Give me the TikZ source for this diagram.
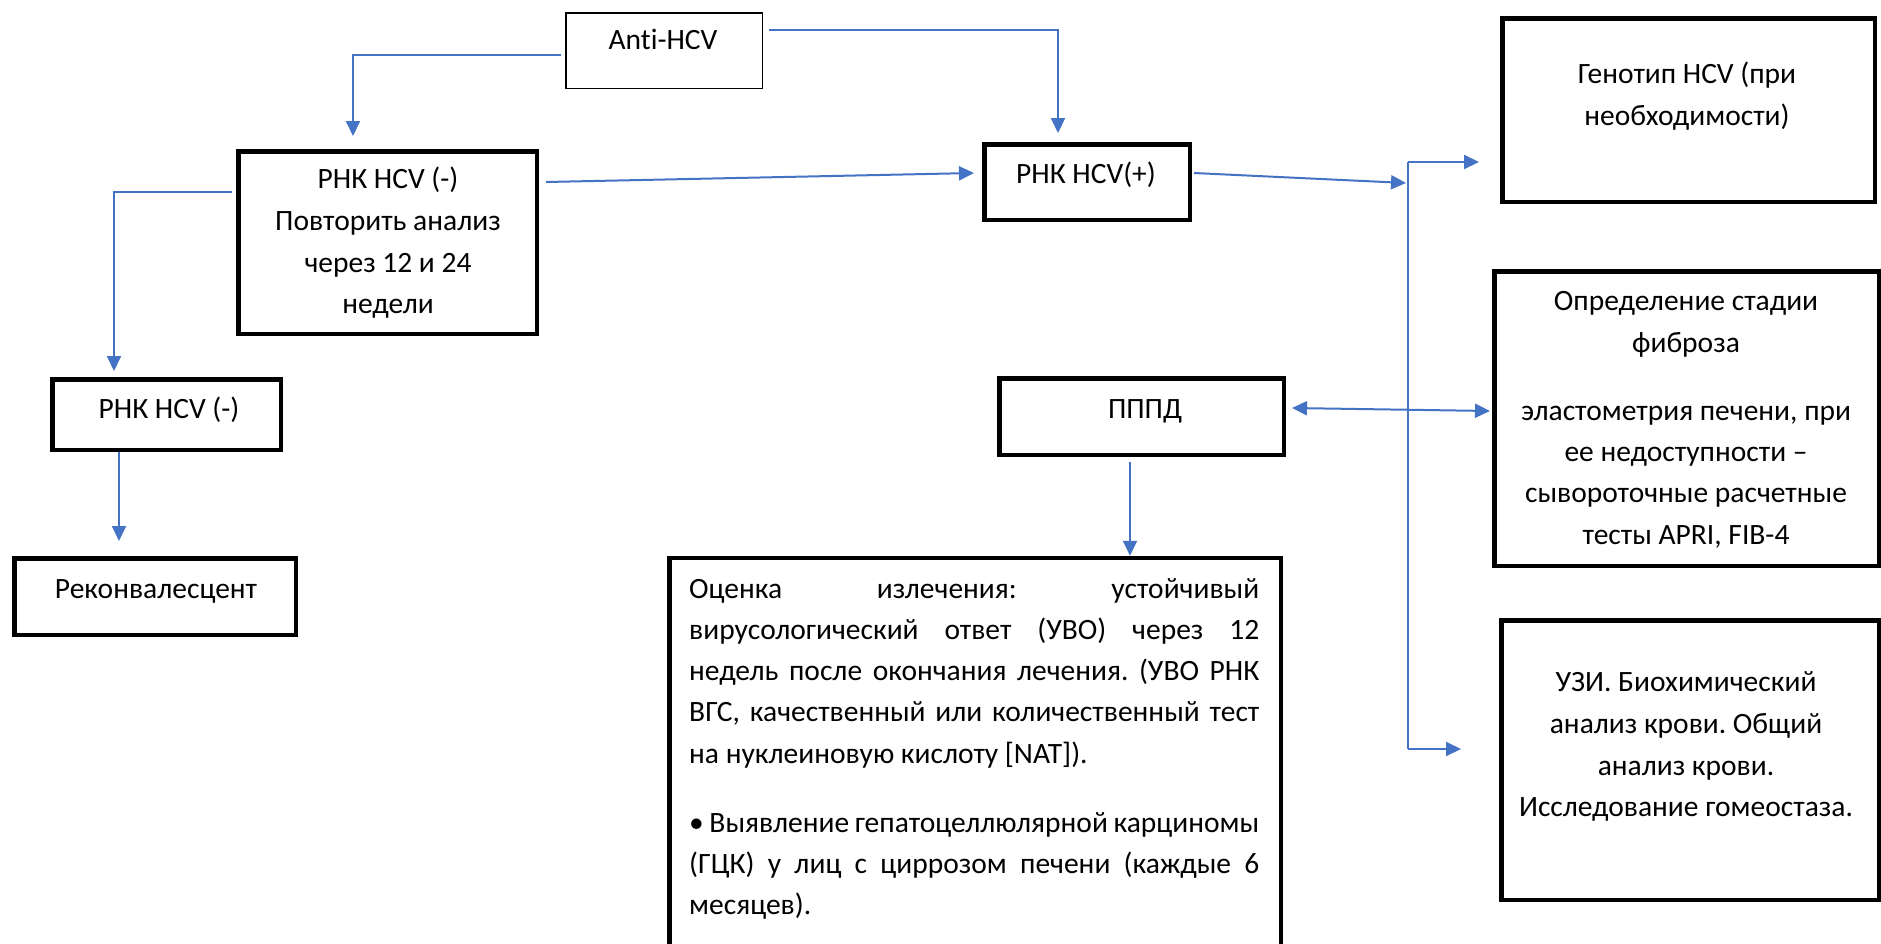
\documentclass[tikz,border=0pt]{standalone}
\usepackage{fontspec}
\setmainfont{Carlito}[Ligatures={NoCommon}]
\usetikzlibrary{arrows.meta}
\definecolor{linkblue}{HTML}{4472C4}
\frenchspacing
\tikzset{
  thinbox/.style={draw=black, line width=1.5pt, rectangle, inner sep=0pt},
  thickbox/.style={draw=black, line width=4.5pt, rectangle, inner sep=0pt},
  txt/.style={font=\fontsize{29.5}{35}\selectfont, inner sep=0pt, anchor=base},
  ltxt/.style={txt, anchor=base west},
  link/.style={draw=linkblue, line width=2pt, -{Triangle[length=15pt,width=14pt]}},
  plainlink/.style={draw=linkblue, line width=2pt},
  duallink/.style={draw=linkblue, line width=2pt, {Triangle[length=15pt,width=14pt]}-{Triangle[length=15pt,width=14pt]}},
}
\begin{document}
\begin{tikzpicture}[x=1pt,y=-1pt]
\fill[white] (0,0) rectangle (1881,943);
\useasboundingbox (0,0) rectangle (1881,943);

% boxes
\node[thinbox,  minimum width=196.5pt, minimum height=75.5pt]  (anti)    at (664,50.5) {};
\node[thickbox, minimum width=298.5pt, minimum height=182.5pt] (rnkneg1) at (387.5,242.5) {};
\node[thickbox, minimum width=205.5pt, minimum height=75.5pt]  (rnkpos)  at (1087,182) {};
\node[thickbox, minimum width=372.5pt, minimum height=183.5pt] (geno)    at (1688.5,110) {};
\node[thickbox, minimum width=384.5pt, minimum height=294.5pt] (fib)     at (1686.5,418.5) {};
\node[thickbox, minimum width=377.5pt, minimum height=279.5pt] (uzi)     at (1690,760) {};
\node[thickbox, minimum width=228.5pt, minimum height=70.5pt]  (rnkneg2) at (166.5,414.5) {};
\node[thickbox, minimum width=281.5pt, minimum height=76.5pt]  (rekon)   at (155,596.5) {};
\node[thickbox, minimum width=284.5pt, minimum height=76.5pt]  (pppd)    at (1141.5,416.5) {};
\node[thickbox, minimum width=611.5pt, minimum height=400pt]   (ocenka)  at (975,758) {};

% texts
\node[txt] (tanti) at (663,49) {Anti-HCV};
\node[txt] (tn1a) at (388,188) {РНК HCV (-)};
\node[txt] (tn1b) at (388,230) {Повторить анализ};
\node[txt] (tn1c) at (388,272) {через 12 и 24};
\node[txt] (tn1d) at (388,313) {недели};
\node[txt] (tpos) at (1086,183) {РНК HCV(+)};
\node[txt] (tgea) at (1687,83) {Генотип HCV (при};
\node[txt] (tgeb) at (1687,125) {необходимости)};
\node[txt] (tfia) at (1686,310) {Определение стадии};
\node[txt] (tfib) at (1686,352) {фиброза};
\node[txt] (tfic) at (1686,420) {эластометрия печени, при};
\node[txt] (tfid) at (1686,461) {ее недоступности –};
\node[txt] (tfie) at (1686,502) {сывороточные расчетные};
\node[txt] (tfif) at (1686,544) {тесты APRI, FIB-4};
\node[txt] (tuza) at (1686,691) {УЗИ. Биохимический};
\node[txt] (tuzb) at (1686,733) {анализ крови. Общий};
\node[txt] (tuzc) at (1686,775) {анализ крови.};
\node[txt] (tuzd) at (1686,816) {Исследование гомеостаза.};
\node[txt] (tn2) at (169,418) {РНК HCV (-)};
\node[txt] (trek) at (156,598) {Реконвалесцент};
\node[txt] (tppd) at (1145,418) {ПППД};
\node[ltxt] (toa) at (689,598) {\makebox[570pt][s]{Оценка излечения: устойчивый}};
\node[ltxt] (tob) at (689,639) {\makebox[570pt][s]{вирусологический ответ (УВО) через 12}};
\node[ltxt] (toc) at (689,680) {\makebox[570pt][s]{недель после окончания лечения. (УВО РНК}};
\node[ltxt] (tod) at (689,721) {\makebox[570pt][s]{ВГС, качественный или количественный тест}};
\node[ltxt] (toe) at (689,763) {на нуклеиновую кислоту [NAT]).};
\node[ltxt] (tof) at (689,832) {\makebox[570pt][s]{• Выявление гепатоцеллюлярной карциномы}};
\node[ltxt] (tog) at (689,873) {\makebox[570pt][s]{(ГЦК) у лиц с циррозом печени (каждые 6}};
\node[ltxt] (toh) at (689,914) {месяцев).};

% connector ends
\coordinate (negIn) at (353,136);
\coordinate (posIn) at (1058,133);
\coordinate (posIn2) at (974,173);
\coordinate (neg2In) at (114,371);
\coordinate (rekIn) at (119,541);
\coordinate (brIn) at (1406,183);
\coordinate (brTop) at (1408,162);
\coordinate (brBot) at (1408,749);

% connectors
\draw[link] ([xshift=-4pt,yshift=-4.5pt]anti.west) -| (negIn);
\draw[link] ([xshift=6pt,yshift=20.5pt]anti.east) -| (posIn);
\draw[link] ([xshift=7pt,yshift=60.5pt]rnkneg1.east) -- (posIn2);
\draw[link] ([xshift=-4pt,yshift=50.5pt]rnkneg1.west) -| (neg2In);
\draw[link] (rnkneg2.south -| rekIn) -- (rekIn);
\draw[link] ([xshift=2pt,yshift=9pt]rnkpos.east) -- (brIn);
\draw[plainlink] (brTop) -- (brBot);
\draw[link] (brTop) -- ([xshift=-21pt]geno.west |- brTop);
\draw[link] (brBot) -- ([xshift=-38pt]uzi.west |- brBot);
\draw[duallink] ([xshift=6pt,yshift=8.5pt]pppd.east) -- ([xshift=-2pt,yshift=7.5pt]fib.west);
\draw[link] ([xshift=-11.5pt,yshift=-5pt]pppd.south) -- ([xshift=-11.5pt]pppd.south |- ocenka.north);
\end{tikzpicture}
\end{document}
